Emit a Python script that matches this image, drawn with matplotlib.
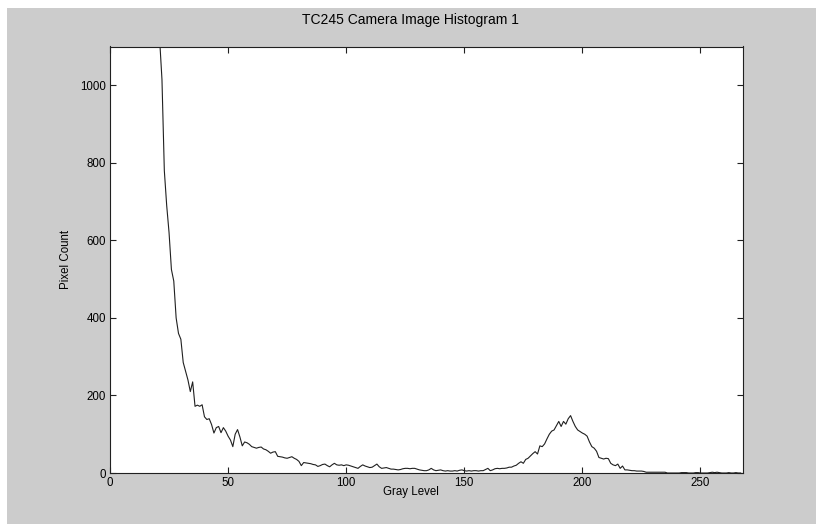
import matplotlib
matplotlib.use("Agg")
import matplotlib.pyplot as plt
from matplotlib.patches import Rectangle

# gray levels 0..267 and pixel counts
gray_levels = list(range(268))
pixel_counts = [
    # 0-19 (above the top of the plot)
    1800, 2600, 3400, 4200, 5000, 5600, 6100, 6400, 6500, 6400,
    6100, 5700, 5200, 4700, 4200, 3800, 3400, 3100, 2900, 2650,
    # 20-39
    2400, 1120, 1015, 780, 690, 620, 525, 495, 400, 360,
    345, 285, 262, 240, 210, 235, 172, 175, 172, 176,
    # 40-59
    145, 138, 140, 125, 103, 117, 120, 104, 117, 108,
    95, 85, 68, 100, 112, 93, 70, 80, 78, 74,
    # 60-79
    68, 66, 64, 66, 67, 62, 60, 56, 51, 54,
    55, 43, 42, 41, 39, 38, 40, 42, 38, 35,
    # 80-99
    30, 19, 27, 26, 25, 24, 22, 21, 17, 19,
    22, 23, 19, 16, 21, 25, 21, 20, 21, 19,
    # 100-119
    21, 20, 18, 16, 14, 12, 17, 21, 18, 16,
    14, 15, 19, 23, 16, 12, 13, 14, 12, 10,
    # 120-139
    10, 9, 8, 9, 11, 12, 12, 11, 12, 12,
    10, 8, 7, 6, 6, 8, 12, 8, 6, 7,
    # 140-159
    8, 6, 5, 6, 5, 5, 6, 5, 7, 8,
    6, 5, 6, 5, 6, 6, 5, 6, 6, 9,
    # 160-179
    12, 6, 8, 11, 12, 11, 12, 12, 13, 15,
    15, 18, 20, 25, 29, 25, 35, 38, 44, 50,
    # 180-199
    55, 49, 70, 68, 75, 88, 100, 108, 111, 122,
    133, 120, 133, 126, 140, 148, 133, 120, 111, 107,
    # 200-219
    103, 100, 95, 80, 68, 64, 56, 40, 38, 36,
    38, 37, 25, 21, 19, 23, 12, 18, 8, 8,
    # 220-239
    7, 6, 6, 5, 5, 5, 4, 2, 2, 2,
    2, 2, 2, 2, 2, 2, 0, 0, 0, 0,
    # 240-259
    0, 0, 1, 1, 1, 0, 0, 0, 1, 1,
    0, 0, 0, 0, 1, 2, 1, 2, 1, 0,
    # 260-267
    0, 0, 1, 0, 0, 1, 0, 0,
]

x_ticks = [0, 50, 100, 150, 200, 250]
y_ticks = [0, 200, 400, 600, 800, 1000]

plt.rcParams['font.family'] = ['Liberation Sans', 'DejaVu Sans']
plt.rcParams['font.size'] = 8.3

fig = plt.figure(figsize=(8.17, 5.24), dpi=100, facecolor='white')
# grey window area (small white margin at top and left)
fig.patches.append(Rectangle((7 / 817, 0), 809 / 817, 516 / 524,
                             transform=fig.transFigure, facecolor='#cccccc',
                             edgecolor='none', zorder=-1))

ax = fig.add_axes([110 / 817, 51 / 524, 633 / 817, 426.5 / 524])
ax.plot(gray_levels, pixel_counts, color='#202020', linewidth=0.8)

ax.set_xlim(0, 268)
ax.set_ylim(0, 1100)
ax.set_xticks(x_ticks)
ax.set_yticks(y_ticks)
ax.tick_params(direction='in', length=4, width=0.8, top=True, right=True,
               pad=3, colors='#202020', labelcolor='black')
for sp in ax.spines.values():
    sp.set_linewidth(0.8)
    sp.set_color('#202020')

# text sits a little left of the axes centre, like the original window
ax.set_title('TC245 Camera Image Histogram 1', pad=16, x=0.474)
ax.set_xlabel('Gray Level', labelpad=-2, x=0.476)
ax.set_ylabel('Pixel Count', labelpad=6)

fig.savefig('out.png', dpi=100, facecolor=fig.get_facecolor())
